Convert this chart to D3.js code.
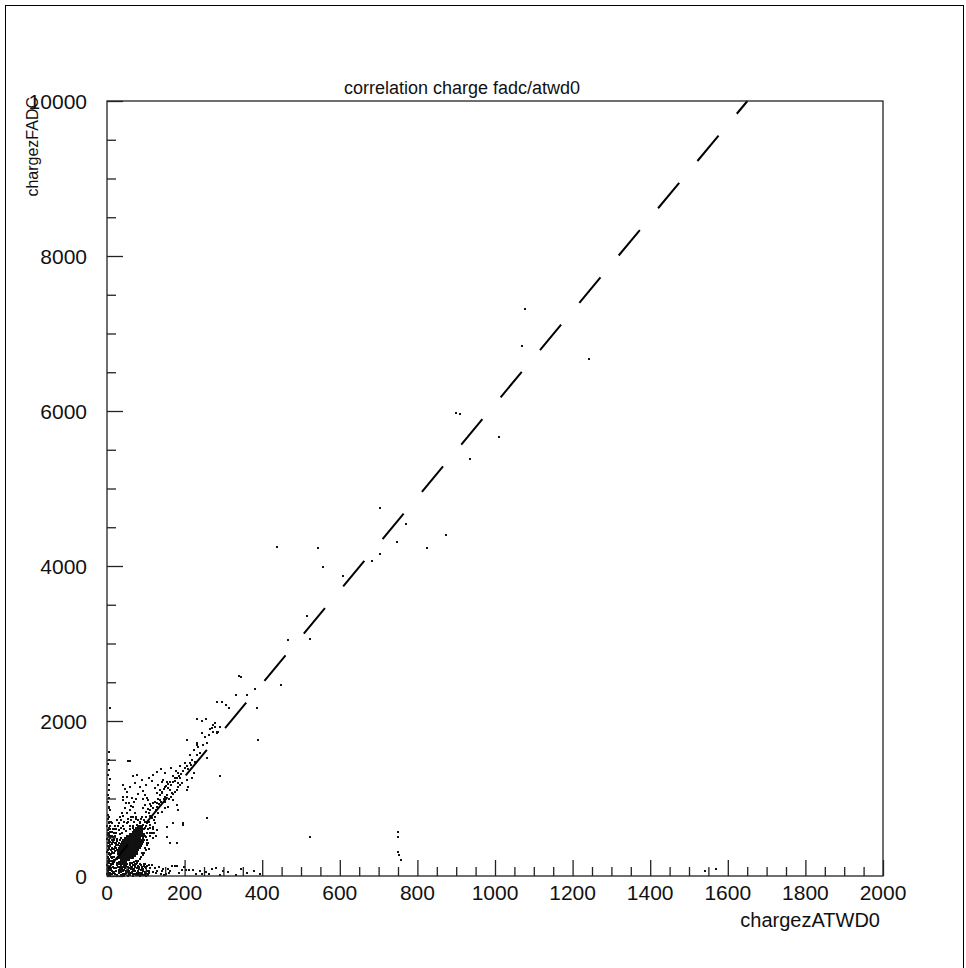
<!DOCTYPE html>
<html>
<head>
<meta charset="utf-8">
<script src="https://cdn.jsdelivr.net/npm/d3@7"></script>
<style>
  html, body { margin: 0; padding: 0; background: #fff; }
  svg { display: block; }
  text { font-family: "Liberation Sans", Arial, sans-serif; fill: #111; }
</style>
</head>
<body>
<script>
// ---- data -------------------------------------------------------------
const chartTitle = "correlation charge fadc/atwd0";
const xTitle = "chargezATWD0";
const yTitle = "chargezFADC";
const xTickValues = [0, 200, 400, 600, 800, 1000, 1200, 1400, 1600, 1800, 2000];
const yTickValues = [0, 2000, 4000, 6000, 8000, 10000];

// linear fit drawn as dashed line: FADC = intercept + slope * ATWD0
const fitIntercept = 80;
const fitSlope = 6.01;

// dense core of events around ATWD0 ~ 60, FADC ~ 400 : [atwd0, fadc]
const coreEvents = [
  [34,160],[39,160],[44,160],
  [30,185],[35,185],[40,185],[45,185],[50,185],
  [36,210],[41,210],[46,210],[51,210],[56,210],[26,215],
  [31,235],[36,235],[41,235],[46,235],[51,235],[56,235],[61,235],[66,235],
  [31,260],[36,260],[41,260],[46,260],[51,260],[56,260],[61,260],[66,260],[71,260],
  [28,285],[33,285],[38,285],[43,285],[48,285],[53,285],[58,285],[63,285],[68,285],[73,285],[77,285],
  [28,310],[33,310],[38,310],[43,310],[48,310],[53,310],[58,310],[63,310],[68,310],[73,310],[78,310],
  [26,330],[31,335],[36,335],[41,335],[46,335],[51,335],[56,335],[61,335],[66,335],[71,335],[76,335],[81,335],
  [24,355],[31,360],[36,360],[41,360],[46,360],[51,360],[56,360],[61,360],[66,360],[71,360],[76,360],[81,360],[85,360],
  [21,380],[34,385],[39,385],[44,385],[49,385],[54,385],[59,385],[64,385],[69,385],[74,385],[79,385],[84,385],[88,385],
  [24,400],[29,405],[36,410],[41,410],[46,410],[51,410],[56,410],[61,410],[66,410],[71,410],[76,410],[81,410],[86,410],[90,410],
  [22,430],[30,432],[39,440],[44,440],[49,440],[54,440],[59,440],[64,440],[69,440],[74,440],[79,440],[84,440],[89,440],[93,440],
  [26,455],[33,460],[41,465],[46,465],[51,465],[56,465],[61,465],[66,465],[71,465],[76,465],[81,465],[86,465],[91,465],[96,470],
  [25,480],[36,485],[46,490],[51,490],[56,490],[61,490],[66,490],[71,490],[76,490],[81,490],[86,490],[92,490],[100,500],
  [52,515],[57,515],[62,515],[67,515],[72,515],[77,515],[82,515],[87,515],[92,515],[97,520],
  [59,540],[64,540],[69,540],[74,540],[79,540],[84,540],[89,540],[95,545],
  [67,565],[72,565],[77,565],[82,565],[85,565],[90,568],
  [70,590],[75,590],[80,590],[85,590],[90,590],
  [74,615],[79,615],[84,615],[89,615],
  [80,640],[86,640],[91,640]
];

// scattered events around the core
const haloEvents = [
  [15,250],[18,300],[14,350],[20,520],[23,560],[30,590],[35,620],[40,650],[28,640],[45,600],[50,580],
  [33,540],[38,560],[102,400],[105,430],[108,350],[100,330],[95,300],[92,270],[88,240],[84,220],[80,200],
  [75,190],[70,185],[97,360],[104,470],[112,520],[110,560],[106,600],[98,620],[93,660],[85,680],[77,660],
  [66,620],[58,640],[52,680],[45,700],[36,720],[30,680],[24,600],[19,560],[17,480],[12,520],[15,600],
  [20,640],[25,720],[33,760],[42,780],[55,740],[62,720],[68,760],[74,730],[80,720],[88,740],[95,720],
  [104,680],[112,660],[118,600],[122,560],[126,520]
];

// events close to the x axis (FADC near zero)
const bottomEvents = [
  [28,150],[33,120],[38,95],[43,130],[48,70],[53,110],[58,45],[63,90],[68,140],[73,60],[78,100],[83,30],[88,75],
  [30,40],[35,15],[40,60],[45,20],[50,35],[55,80],[60,10],[65,50],[70,25],[75,15],[80,55],[85,20],[90,40],[95,10],
  [31,175],[41,170],[51,160],[61,165],[71,150],[81,120],[93,90],[98,50],[103,25],[108,70],
  [20,20],[22,60],[24,100],[26,140],[25,170],[32,80],[37,140],[42,30],[47,100],[52,160],[57,70],[62,120],
  [67,30],[72,110],[77,40],[82,90],[87,140],[92,60],[97,110],[102,70],[107,35],[112,100],[36,50],[46,155],
  [56,20],[66,95],[76,160],[86,45],[96,135],[106,15],[29,110],[39,15],[49,45],[59,140],[69,70],[79,130],
  [89,100],[99,25],[109,140],[118,55],[125,35],[133,110],[141,60],[148,15],[156,95],[163,60],
  [27,10],[31,55],[34,95],[36,160],[39,120],[43,75],[44,5],[48,130],[50,170],[53,55],[54,5],[57,100],
  [60,150],[61,40],[64,170],[65,120],[68,5],[70,90],[73,140],[74,30],[78,170],[80,70],[83,110],[84,5],
  [86,160],[88,30],[91,120],[94,80],[95,160],[97,40],[100,100],[101,5],[104,130],[35,75],[47,20],
  [58,170],[66,75],[79,10],[90,10],[99,160],[42,110],[30,150],
  [115,142],[124,99],[130,60],[138,30],[145,85],[152,20],[160,45],[167,129],[174,129],[180,129],
  [186,40],[193,77],[198,120],[203,77],[212,77],[221,77],[230,30],[240,60],[245,20],[256,55],[262,30],
  [270,86],[280,100],[290,15],[300,70],[313,56],[332,13],[345,90],[360,40],[380,60],[395,25]
];

// events along the ATWD0 ~ 0 edge
const edgeEvents = [
  [8,2172],[6,1604],[6,1368],[6,1110],[6,877],[3,1303],[5,1010],[4,894],[8,852],[3,787],[6,684],
  [4,619],[8,568],[2,529],[6,465],[12,465],[18,465],[3,426],[9,400],[5,374],[2,336],[10,336],[16,300],
  [4,300],[7,270],[12,250],[3,230],[8,200],[14,190],[5,170],[10,150],[2,130],[15,110],[6,95],[11,80],
  [3,60],[8,45],[13,30],[5,15],[19,180],[21,320],[20,420],
  [1,20],[4,40],[2,80],[5,110],[1,140],[3,190],[6,220],[2,250],[5,280],[1,310],[4,350],[2,390],[6,430],
  [1,480],[4,510],[2,560],[5,600],[1,650],[4,700],[2,740],[6,760],[10,280],[12,360],[9,440],[11,520],
  [14,420],[8,600],[10,700],[3,960],[5,1180],[2,1450],[4,1500],[7,1250],[3,1050],[12,230],[16,150],
  [9,120],[13,60],[16,40],[8,10],
  [3,20],[7,75],[11,105],[14,160],[17,210],[10,245],[6,300],[13,310],[17,350],[7,390],[12,410],
  [16,440],[4,455],[9,490],[15,500],[6,540],[12,570],[18,600],[2,590],[9,640],[14,680],[17,250],
  [19,100],[18,50]
];

// events spreading along the correlation band
const bandEvents = [
  [42,1174],[46,1118],[40,1024],[42,981],[51,1024],[64,1011],[49,938],[46,873],[38,809],[51,809],
  [59,852],[68,895],[72,809],[76,766],[89,766],[94,873],[98,916],[92,989],[102,1002],[115,1230],
  [124,1131],[132,1174],[128,1067],[137,1110],[141,1217],[145,1239],[149,1153],[154,1217],[158,1187],
  [162,1217],[171,1290],[175,1260],[180,1260],[184,1325],[188,1260],[162,1110],[167,1067],[180,1110],
  [141,1067],[149,1024],[137,981],[128,938],[119,873],[111,852],[107,809],[115,744],[124,766],[132,809],
  [141,830],[149,873],[158,895],[171,981],[180,916],[184,852],[171,680],[154,637],[124,680],[119,637],
  [128,594],[115,551],[119,486],[102,422],[94,465],[85,378],[89,292],[154,508],[162,422],[180,422],
  [197,680],[205,1110],[210,1153],[207,1239],[218,1260],[223,1325],[216,1432],[227,1475],[231,1561],
  [240,1583],[235,1669],[248,1690],[259,1720],[253,1798],[264,1819],[231,1712],[244,1841],[274,1862],
  [278,1927],[283,1849],[287,1862],[270,1905],[290,1927],[265,1892],[284,1854],[207,1755],[231,1686],
  [58,1479],[66,1290],[55,1484],[257,1518],[291,1293],[257,751],[197,658],
  [100,650],[108,700],[96,600],[104,560],[110,620],[86,700],[92,540],[78,620],[70,700],[82,560],
  [100,760],[112,780],[97,700],[120,720],[63,760],[75,580],[66,640],[55,700],[60,600],
  [100,820],[106,860],[113,900],[118,940],[123,960],[131,1000],[136,1040],[143,1090],[147,1120],
  [152,1160],[157,1140],[165,1180],[170,1210],[176,1230],[182,1200],[186,1290],[191,1310],[196,1350],
  [200,1390],[205,1420],[210,1380],[213,1460],[220,1500],[125,850],[130,890],[135,930],[140,960],
  [146,1000],[150,960],[155,1050],[160,1000],[165,1020],[170,1060],[175,1090],[182,1150],[188,1180],
  [193,1200],[110,930],[105,980],[98,1050],[92,1100],[85,1150],[80,1060],[75,1000],[70,950],[63,900],
  [57,940],[52,1080],[60,1150],[72,1200],[78,1300],[90,1240],[100,1180],[108,1260],[118,1300],
  [128,1340],[138,1380],[150,1330],[165,1400],[178,1360],[188,1420],[200,1460],[215,1560],[225,1620]
];

// sparse high-charge events
const highEvents = [
  [233,2021],[244,2000],[255,2021],[278,1974],[274,1948],[283,2248],[296,2248],[307,2206],[315,2163],
  [332,2331],[362,2331],[341,2585],[345,2563],[382,2417],[448,2460],[387,2168],[390,1751],
  [466,3041],[524,3062],[516,3355],[557,3982],[607,3875],[682,4065],[438,4250],[544,4232],
  [704,4150],[824,4228],[874,4395],[748,4313],[770,4542],[704,4752],
  [936,5377],[1011,5665],[899,5978],[911,5957],[1241,6665],[1070,6835],[1077,7312]
];

// events with large ATWD0 but small FADC
const lowFadcEvents = [
  [523,503],[749,563],[749,498],[749,314],[753,267],[758,206],[1541,68],[1569,86]
];

// ---- layout -------------------------------------------------------------
const W = 966, H = 968;
const plot = { left: 107, right: 883, top: 101, bottom: 876 };

const svg = d3.select("body").append("svg")
  .attr("width", W).attr("height", H);

// outer canvas border
svg.append("rect")
  .attr("x", 5.5).attr("y", 5.5)
  .attr("width", W - 8).attr("height", H - 4)
  .attr("fill", "none").attr("stroke", "#000").attr("stroke-width", 1);

const x = d3.scaleLinear().domain([0, 2000]).range([plot.left, plot.right]);
const y = d3.scaleLinear().domain([0, 10000]).range([plot.bottom, plot.top]);

// plotted events
const allEvents = [].concat(coreEvents, haloEvents, bottomEvents, edgeEvents,
                            bandEvents, highEvents, lowFadcEvents);
svg.append("g")
  .selectAll("rect")
  .data(allEvents)
  .join("rect")
  .attr("x", d => Math.round(x(d[0])) - 1)
  .attr("y", d => Math.round(y(d[1])) - 1)
  .attr("width", 2).attr("height", 2)
  .attr("fill", "#111");

// fit line
const xEnd = (10000 - fitIntercept) / fitSlope;
svg.append("line")
  .attr("x1", x(0)).attr("y1", y(fitIntercept))
  .attr("x2", x(xEnd)).attr("y2", y(10000))
  .attr("stroke", "#000").attr("stroke-width", 2)
  .attr("stroke-dasharray", "33 28.5");

// frame
svg.append("rect")
  .attr("x", plot.left).attr("y", plot.top)
  .attr("width", plot.right - plot.left).attr("height", plot.bottom - plot.top)
  .attr("fill", "none").attr("stroke", "#222").attr("stroke-width", 1.3);

// x axis: ticks drawn inward
const xAxis = d3.axisTop(x)
  .tickValues(xTickValues)
  .tickSize(16).tickFormat(() => "");
const xMinor = d3.axisTop(x)
  .tickValues(d3.range(0, 2001, 50).filter(v => v % 200 !== 0))
  .tickSize(9).tickFormat(() => "");
const gx = svg.append("g").attr("transform", `translate(0,${plot.bottom})`);
gx.append("g").call(xAxis);
gx.append("g").call(xMinor);
gx.selectAll(".domain").remove();
gx.selectAll("line").attr("stroke", "#222").attr("stroke-width", 1.3);

svg.append("g").selectAll("text")
  .data(xTickValues).join("text")
  .attr("x", d => x(d)).attr("y", 900)
  .attr("text-anchor", "middle")
  .attr("font-size", 21)
  .text(d => d);

// y axis: ticks drawn inward
const yAxis = d3.axisRight(y)
  .tickValues(yTickValues)
  .tickSize(16).tickFormat(() => "");
const yMinor = d3.axisRight(y)
  .tickValues(d3.range(0, 10001, 500).filter(v => v % 2000 !== 0))
  .tickSize(9).tickFormat(() => "");
const gy = svg.append("g").attr("transform", `translate(${plot.left},0)`);
gy.append("g").call(yAxis);
gy.append("g").call(yMinor);
gy.selectAll(".domain").remove();
gy.selectAll("line").attr("stroke", "#222").attr("stroke-width", 1.3);

svg.append("g").selectAll("text")
  .data(yTickValues).join("text")
  .attr("x", 87).attr("y", d => y(d) + 8)
  .attr("text-anchor", "end")
  .attr("font-size", 21)
  .text(d => d);

// titles
svg.append("text")
  .attr("x", 462).attr("y", 94)
  .attr("text-anchor", "middle")
  .attr("font-size", 18)
  .text(chartTitle);

svg.append("text")
  .attr("x", 880).attr("y", 927)
  .attr("text-anchor", "end")
  .attr("font-size", 20)
  .text(xTitle);

svg.append("text")
  .attr("transform", "translate(38,97) rotate(-90)")
  .attr("text-anchor", "end")
  .attr("font-size", 16)
  .text(yTitle);
</script>
</body>
</html>
